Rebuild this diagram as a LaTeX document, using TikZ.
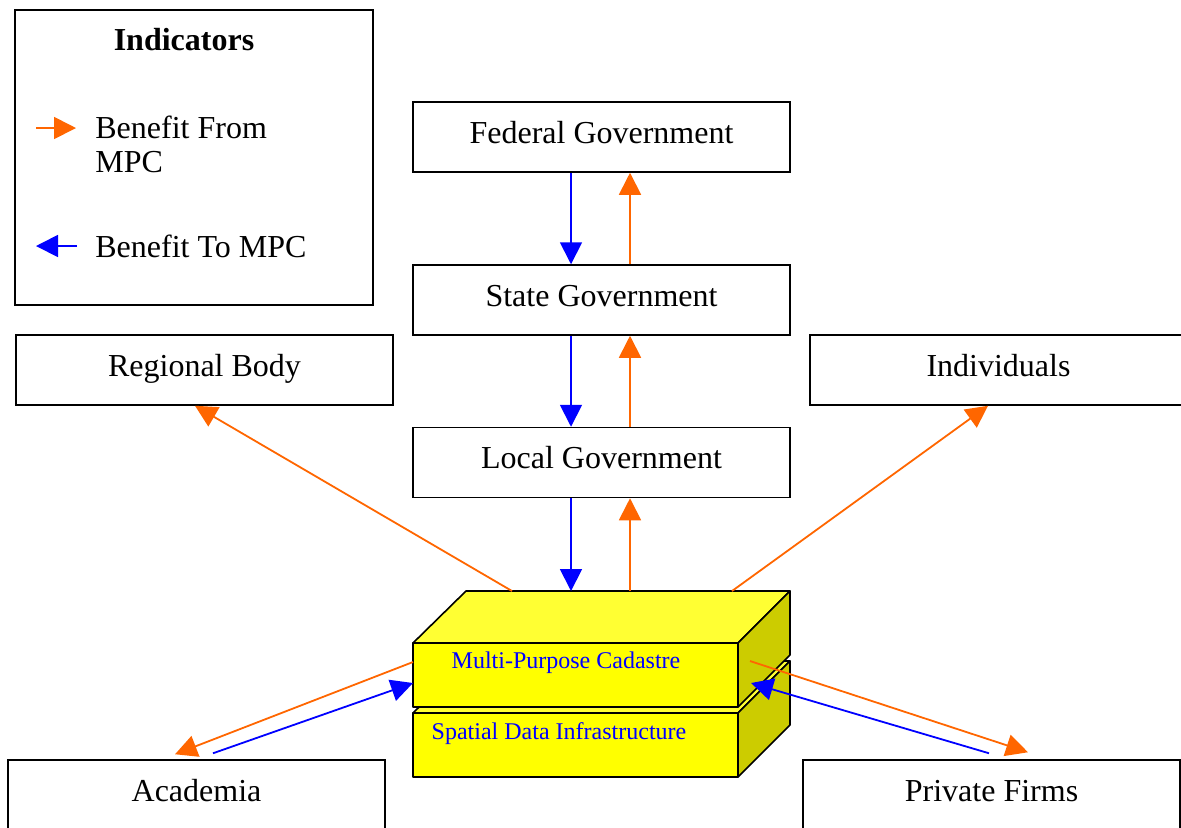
\documentclass[tikz,border=0pt]{standalone}
\usepackage{fontspec}
\setmainfont{Liberation Serif}
\usetikzlibrary{arrows.meta,calc}
\definecolor{fromC}{HTML}{FF6600}
\definecolor{toC}{HTML}{0000FF}
\definecolor{topY}{HTML}{FFFF33}
\definecolor{frontY}{HTML}{FFFF00}
\definecolor{sideY}{HTML}{CCCC00}
\begin{document}
\begin{tikzpicture}[x=0.5pt,y=-0.5pt,
  ent/.style={draw, line width=0.75pt, minimum width=188.5pt, minimum height=35pt, inner sep=0pt, text height=10pt, text depth=4pt, font=\fontsize{16}{19}\selectfont},
  fromarr/.style={draw=fromC, line width=0.9pt, -{Triangle[length=11pt,width=11pt]}},
  toarr/.style={draw=toC, line width=0.9pt, -{Triangle[length=11pt,width=11pt]}},
  slab/.style={draw, line width=0.8pt, line join=round},
  boxtext/.style={text=toC, font=\fontsize{12}{14}\selectfont, inner sep=0pt},
  legtext/.style={font=\fontsize{16}{17}\selectfont, inner sep=0pt, align=left}
]
\useasboundingbox (0,0) rectangle (1181,827);
\clip (0,0) rectangle (1181,827);

% Legend
\node[draw, line width=0.7pt, minimum width=179pt, minimum height=147.5pt, inner sep=0pt] (legend) at (194,157.5) {};
\node[font=\bfseries\fontsize{16}{19}\selectfont, inner sep=0pt] (legtitle) at (184,40) {Indicators};
\coordinate (lo1) at (36,128);
\coordinate (lo2) at (76,128);
\draw[fromarr] (lo1) -- (lo2);
\node[legtext, anchor=north west] (legfrom) at (95,116) {Benefit From\\MPC};
\coordinate (lb1) at (77,246);
\coordinate (lb2) at (36,246);
\draw[toarr] (lb1) -- (lb2);
\node[legtext, anchor=west] (legto) at (95,246) {Benefit To MPC};

% Entity boxes
\node[ent] (fed) at (601.5,137) {Federal Government};
\node[ent] (state) at (601.5,300) {State Government};
\node[ent] (local) at (601.5,462.5) {Local Government};
\node[ent] (reg) at (204.5,370) {Regional Body};
\node[ent] (ind) at (998.5,370) {Individuals};
\node[ent] (acad) at (196.5,795) {Academia};
\node[ent] (firms) at (991.5,795) {Private Firms};

% 3D box: lower slab (Spatial Data Infrastructure)
\draw[slab, fill=frontY] (413,713) rectangle (738,777);
\draw[slab, fill=topY] (413,713) -- (738,713) -- (790,661) -- (466,661) -- cycle;
\draw[slab, fill=sideY] (738,713) -- (790,661) -- (790,725) -- (738,777) -- cycle;
% upper slab (Multi-Purpose Cadastre)
\draw[slab, fill=frontY] (413,643) rectangle (738,707);
\draw[slab, fill=topY] (413,643) -- (738,643) -- (790,591) -- (466,591) -- cycle;
\draw[slab, fill=sideY] (738,643) -- (790,591) -- (790,655) -- (738,707) -- cycle;
\node[boxtext] (mpc) at (566,663) {Multi-Purpose Cadastre};
\node[boxtext] (sdi) at (559,734) {Spatial Data Infrastructure};

% attachment points on the box
\coordinate (mT1) at (512,591);
\coordinate (mT2) at (571,591);
\coordinate (mT3) at (630,591);
\coordinate (mT4) at (732,591);
\coordinate (mL1) at (413,662);
\coordinate (mL2) at (413,683);
\coordinate (mR1) at (750,661);
\coordinate (mR2) at (751,683);

% vertical arrows
\draw[toarr] ([xshift=-15.25pt]fed.south) -- ([xshift=-15.25pt]state.north);
\draw[fromarr] ([xshift=14.25pt]state.north) -- ([xshift=14.25pt]fed.south);
\draw[toarr] ([xshift=-15.25pt]state.south) -- ([xshift=-15.25pt]local.north);
\draw[fromarr] ([xshift=14.25pt]local.north) -- ([xshift=14.25pt]state.south);
\draw[toarr] ([xshift=-15.25pt]local.south) -- (mT2);
\draw[fromarr] (mT3) -- ([xshift=14.25pt]local.south);

% diagonal arrows
\draw[fromarr] (mT1) -- ([xshift=-4.75pt]reg.south);
\draw[fromarr] (mT4) -- ([xshift=-5.25pt]ind.south);
\draw[fromarr] (mL1) -- ([xshift=-10.75pt,yshift=2.5pt]acad.north);
\draw[toarr] ([xshift=8.25pt,yshift=3pt]acad.north) -- (mL2);
\draw[fromarr] (mR1) -- ([xshift=18.25pt,yshift=3.5pt]firms.north);
\draw[toarr] ([xshift=-1.25pt,yshift=3pt]firms.north) -- (mR2);
\end{tikzpicture}
\end{document}
